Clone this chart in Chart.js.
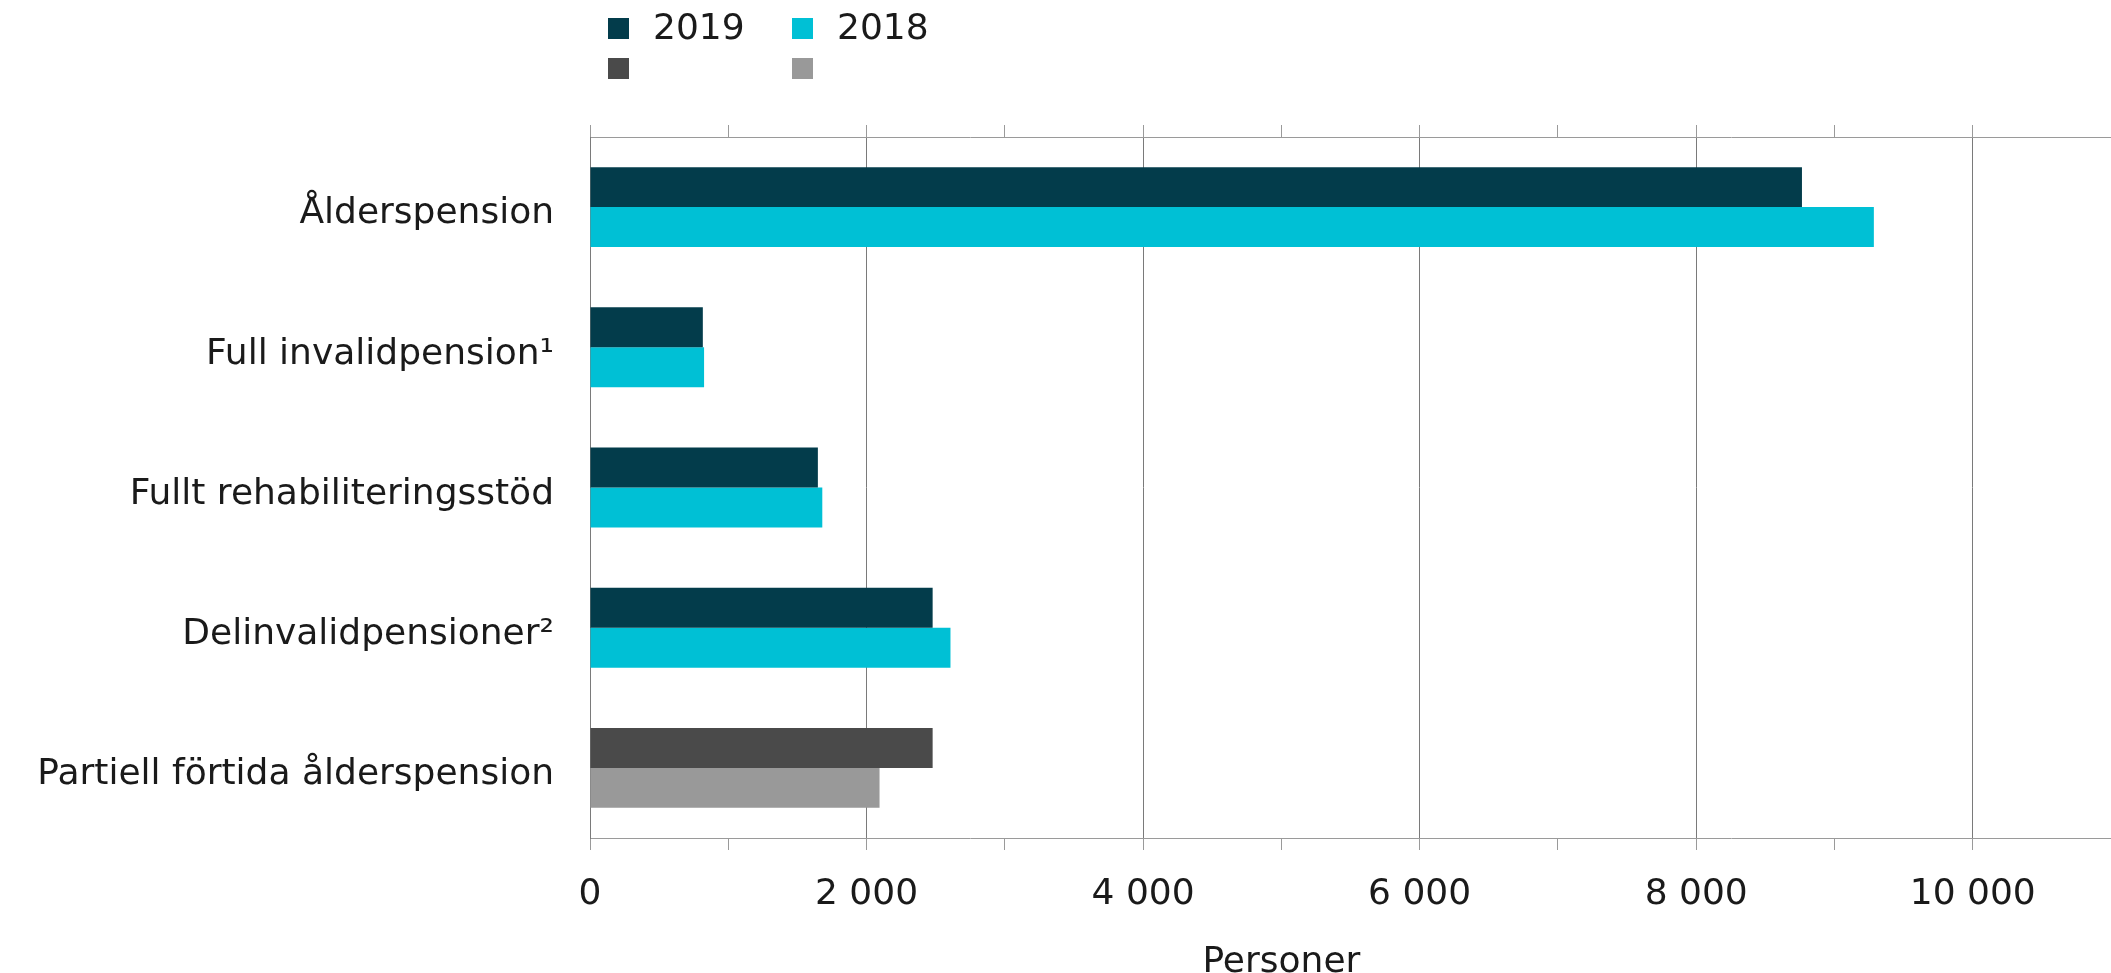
<!DOCTYPE html>
<html>
<head>
<meta charset="utf-8">
<script src="https://cdn.jsdelivr.net/npm/chart.js@4.4.1/dist/chart.umd.min.js"></script>
<style>
  html, body { margin: 0; padding: 0; background: #fff; overflow: hidden; }
  #wrap { width: 2111px; height: 973px; }
  canvas { display: block; }
</style>
</head>
<body>
<div id="wrap"><canvas id="pensionChart"></canvas></div>
<script>
const categories = [
    'Ålderspension',
    'Full invalidpension¹',
    'Fullt rehabiliteringsstöd',
    'Delinvalidpensioner²',
    'Partiell förtida ålderspension'
];
const values2019 = [8765, 816, 1648, 2478, null];
const values2018 = [9285, 825, 1680, 2607, null];
const partial2019 = [null, null, null, null, 2478];
const partial2018 = [null, null, null, null, 2094];
const xTickLabels = [0, 2000, 4000, 6000, 8000, 10000];
const axisTitle = 'Personer';

const FONT = '"DejaVu Sans", Verdana, sans-serif';
const GRID = '#7a7a7a';
const AXIS = '#9a9a9a';

function formatThousands(v) {
    return String(v).replace(/\B(?=(\d{3})+(?!\d))/g, ' ');
}

// legend in a 2 x 2 grid, like the original
const gridLegend = {
    id: 'gridLegend',
    afterDraw(chart) {
        const { ctx, chartArea } = chart;
        ctx.save();
        ctx.font = '36px ' + FONT;
        ctx.textBaseline = 'middle';
        chart.data.datasets.forEach((ds, i) => {
            const x = chartArea.left + 18 + (i % 2) * 184;
            const y = 18 + Math.floor(i / 2) * 40;
            ctx.fillStyle = ds.backgroundColor;
            ctx.fillRect(x, y, 21, 21);
            if (ds.label) {
                ctx.fillStyle = '#1a1a1a';
                ctx.fillText(ds.label, x + 45, y + 12);
            }
        });
        ctx.restore();
    }
};

const axisTitlePlugin = {
    id: 'axisTitle',
    afterDraw(chart) {
        const { ctx, scales } = chart;
        ctx.save();
        ctx.font = '36px ' + FONT;
        ctx.fillStyle = '#1a1a1a';
        ctx.textAlign = 'center';
        ctx.textBaseline = 'alphabetic';
        ctx.fillText(axisTitle, scales.x.getPixelForValue(5000), chart.chartArea.bottom + 134);
        ctx.restore();
    }
};

const ctx = document.getElementById('pensionChart');
new Chart(ctx, {
    type: 'bar',
    data: {
        labels: categories,
        datasets: [
            { label: '2019', data: values2019, backgroundColor: '#033c4b' },
            { label: '2018', data: values2018, backgroundColor: '#00c0d5' },
            { label: '', data: partial2019, backgroundColor: '#4a4a4a' },
            { label: '', data: partial2018, backgroundColor: '#999999' }
        ]
    },
    options: {
        indexAxis: 'y',
        responsive: true,
        maintainAspectRatio: false,
        animation: false,
        skipNull: true,
        categoryPercentage: 0.57,
        barPercentage: 1.0,
        layout: {
            padding: { top: 125, left: 22, right: 0, bottom: 0 }
        },
        scales: {
            x: {
                position: 'bottom',
                min: 0,
                max: 11000,
                afterFit: (scale) => {
                    scale.height = 135;
                    // the axis runs on to the right edge, as in the original
                    scale.paddingRight = 0;
                    scale.paddingLeft = 0;
                },
                ticks: {
                    stepSize: 1000,
                    padding: 23,
                    color: '#1a1a1a',
                    font: { family: FONT, size: 36 },
                    callback: (v) => xTickLabels.includes(v) ? formatThousands(v) : ''
                },
                grid: {
                    color: (c) => (c.tick && xTickLabels.includes(c.tick.value) && c.tick.value > 0) ? GRID : 'rgba(0,0,0,0)',
                    tickColor: AXIS,
                    tickLength: 12,
                    lineWidth: 1
                },
                border: { color: AXIS, width: 1 }
            },
            x2: {
                position: 'top',
                type: 'linear',
                min: 0,
                max: 11000,
                afterFit: (scale) => { scale.height = 12; },
                ticks: { stepSize: 1000, display: false },
                grid: {
                    drawOnChartArea: false,
                    tickColor: AXIS,
                    tickLength: 12
                },
                border: { color: AXIS, width: 1 }
            },
            y: {
                afterFit: (scale) => { scale.width = 568; },
                ticks: {
                    padding: 36,
                    labelOffset: 7,
                    color: '#1a1a1a',
                    font: { family: FONT, size: 36 }
                },
                grid: { display: false, drawTicks: false },
                border: { color: GRID, width: 1 }
            }
        },
        plugins: {
            legend: { display: false },
            tooltip: { enabled: false }
        }
    },
    plugins: [gridLegend, axisTitlePlugin]
});
</script>
</body>
</html>
